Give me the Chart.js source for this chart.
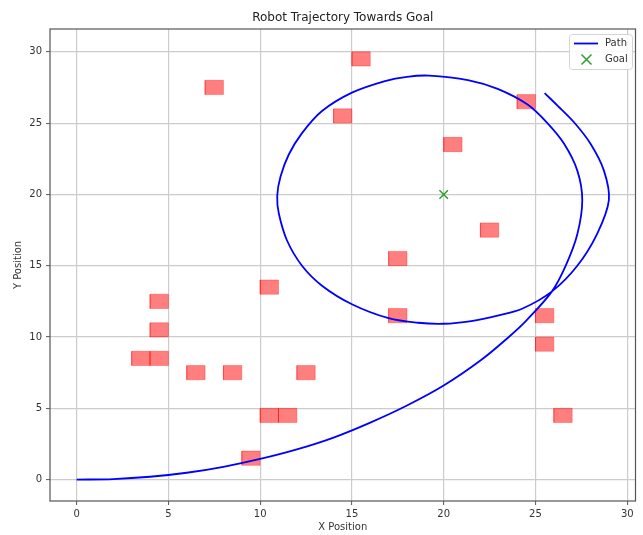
<!DOCTYPE html>
<html lang="en">
<head>
<meta charset="UTF-8" />
<title>Robot Trajectory Towards Goal</title>
<script src="https://cdn.jsdelivr.net/npm/chart.js"></script>
<style>
  body { margin: 0; background: white; }
  .wrap { width: 643px; height: 535px; }
</style>
</head>
<body>
<div class="wrap"><canvas id="trajChart" width="643" height="535"></canvas></div>
<script>
  // robot path
  const pathX = [0, 2, 4, 6, 8, 10, 12, 14, 16, 18, 20, 22, 23.5, 24.5, 25.9,
    26.65, 27.28, 27.55, 27.28, 26.56, 25.65, 24.57, 22.94, 21.32, 19.2, 18.0, 16.8, 15.0, 13.37, 12.28, 11.56, 11.11, 10.93,
    11.02, 11.47, 12.28, 13.37, 15.0, 17.0, 18.6, 20.0, 21.5, 22.94, 24.3, 25.9,
    27.28, 28.36, 29.0, 28.73, 28.0, 27.1, 26.2, 25.5];
  const pathY = [0, 0.04, 0.2, 0.48, 0.9, 1.45, 2.12, 2.95, 4.0, 5.2, 6.6, 8.35, 9.95, 11.15, 13.2,
    15.0, 17.2, 19.6, 21.67, 23.55, 25.0, 26.3, 27.4, 28.02, 28.33, 28.25, 27.95, 27.14, 25.85, 24.3, 22.8, 21.25, 19.9,
    18.64, 16.75, 15.0, 13.6, 12.3, 11.32, 11.0, 10.93, 11.12, 11.5, 12.0, 13.2,
    15.0, 17.24, 19.6, 21.67, 23.55, 25.06, 26.23, 27.1];

  // obstacle cells (lower-left corners)
  const obstacleX = [4, 4, 3, 4, 6, 8, 12, 10, 11, 9, 10, 7, 15, 14, 24, 20, 22, 17, 17, 25, 25, 26];
  const obstacleY = [12, 10, 8, 8, 7, 7, 7, 4, 4, 1, 13, 27, 29, 25, 26, 23, 17, 15, 11, 11, 9, 4];
  const obstacleSize = 1;

  const goalX = [20];
  const goalY = [20];

  const xTicks = [0, 5, 10, 15, 20, 25, 30];
  const yTicks = [0, 5, 10, 15, 20, 25, 30];

  const chartTitle = "Robot Trajectory Towards Goal";
  const xLabel = "X Position";
  const yLabel = "Y Position";

  const obstacleSets = obstacleX.map((x0, i) => {
    const y0 = obstacleY[i];
    return {
      label: "Obstacle",
      data: [
        { x: x0, y: y0 },
        { x: x0 + obstacleSize, y: y0 },
        { x: x0 + obstacleSize, y: y0 + obstacleSize },
        { x: x0, y: y0 + obstacleSize },
        { x: x0, y: y0 }
      ],
      fill: "shape",
      backgroundColor: "rgba(255,0,0,0.5)",
      borderColor: "rgba(255,0,0,0.5)",
      borderWidth: 0.6,
      pointRadius: 0,
      tension: 0,
      order: 3
    };
  });

  const pathSet = {
    label: "Path",
    data: pathX.map((x, i) => ({ x: x, y: pathY[i] })),
    borderColor: "#0000ff",
    borderWidth: 1.8,
    pointRadius: 0,
    tension: 0.33,
    fill: false,
    order: 1
  };

  const goalSet = {
    label: "Goal",
    data: goalX.map((x, i) => ({ x: x, y: goalY[i] })),
    showLine: false,
    pointStyle: "crossRot",
    pointRadius: 6,
    borderColor: "#2ca02c",
    backgroundColor: "#2ca02c",
    borderWidth: 1.5,
    order: 0
  };

  const font = { family: "'DejaVu Sans', sans-serif", size: 10 };

  // frame, title, axis labels and legend
  const decorPlugin = {
    id: "decor",
    afterDraw(chart) {
      const { ctx, chartArea: a } = chart;
      ctx.save();
      ctx.strokeStyle = "#555";
      ctx.lineWidth = 1.2;
      ctx.strokeRect(a.left, a.top, a.right - a.left, a.bottom - a.top);

      ctx.fillStyle = "#222";
      ctx.textAlign = "center";
      ctx.textBaseline = "middle";
      ctx.font = "12px 'DejaVu Sans'";
      ctx.fillText(chartTitle, (a.left + a.right) / 2, 18);

      ctx.fillStyle = "#333";
      ctx.font = "10px 'DejaVu Sans'";
      ctx.fillText(xLabel, (a.left + a.right) / 2, 527);
      ctx.save();
      ctx.translate(18, (a.top + a.bottom) / 2);
      ctx.rotate(-Math.PI / 2);
      ctx.fillText(yLabel, 0, 0);
      ctx.restore();

      // legend box
      ctx.beginPath();
      ctx.roundRect(569.5, 34.5, 63, 35, 3);
      ctx.fillStyle = "rgba(255,255,255,0.85)";
      ctx.fill();
      ctx.strokeStyle = "#d4d4d4";
      ctx.lineWidth = 1;
      ctx.stroke();

      ctx.strokeStyle = "#0000ff";
      ctx.lineWidth = 1.8;
      ctx.beginPath();
      ctx.moveTo(574, 43.5);
      ctx.lineTo(598, 43.5);
      ctx.stroke();

      ctx.strokeStyle = "#2ca02c";
      ctx.lineWidth = 1.5;
      ctx.beginPath();
      ctx.moveTo(581.5, 54.5); ctx.lineTo(591.5, 64.5);
      ctx.moveTo(591.5, 54.5); ctx.lineTo(581.5, 64.5);
      ctx.stroke();

      ctx.fillStyle = "#333";
      ctx.textAlign = "left";
      ctx.fillText("Path", 605, 43.5);
      ctx.fillText("Goal", 605, 59.5);
      ctx.restore();
    }
  };

  new Chart(document.getElementById("trajChart"), {
    type: "line",
    data: { datasets: [goalSet, pathSet, ...obstacleSets] },
    options: {
      responsive: false,
      animation: false,
      layout: { padding: { top: 29, right: 5, left: 0, bottom: 0 } },
      plugins: {
        legend: { display: false },
        tooltip: { enabled: false },
        title: { display: false }
      },
      scales: {
        x: {
          type: "linear",
          min: -1.45,
          max: 30.45,
          afterBuildTicks: (s) => { s.ticks = xTicks.map(v => ({ value: v })); },
          afterFit: (s) => { s.height = 34; s.paddingLeft = 0; s.paddingRight = 0; },
          ticks: { font: font, color: "#333", padding: 3, maxRotation: 0 },
          grid: { color: "#cccccc", lineWidth: 1.2, tickLength: 4, tickColor: "#555", tickWidth: 1 },
          border: { display: false }
        },
        y: {
          type: "linear",
          min: -1.5,
          max: 31.6,
          afterBuildTicks: (s) => { s.ticks = yTicks.map(v => ({ value: v })); },
          afterFit: (s) => { s.width = 50; s.paddingTop = 0; s.paddingBottom = 0; },
          ticks: { font: font, color: "#333", padding: 4 },
          grid: { color: "#cccccc", lineWidth: 1.2, tickLength: 4, tickColor: "#555", tickWidth: 1 },
          border: { display: false }
        }
      }
    },
    plugins: [decorPlugin]
  });
</script>
</body>
</html>
